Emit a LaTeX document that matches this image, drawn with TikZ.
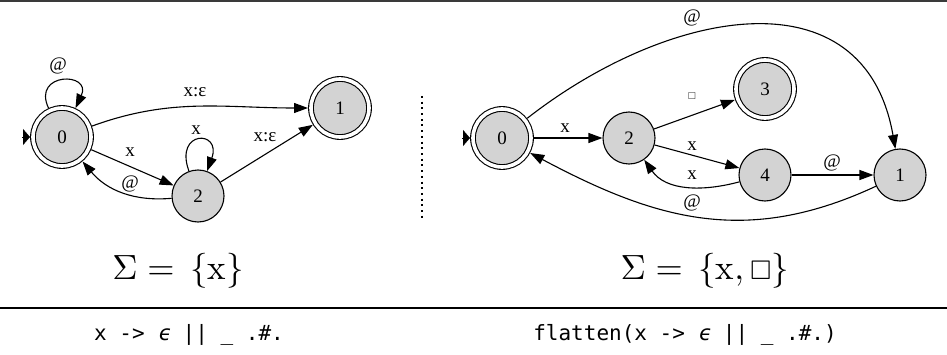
\RequirePackage{fix-cm}
\documentclass[tikz,border=0pt]{standalone}
\usepackage{amsmath}
\usepackage{amssymb}
\usepackage{fontspec}
\usepackage{graphicx}
\usepackage{tikz}
\usetikzlibrary{arrows.meta}
\newfontfamily\gvfont{Liberation Serif}
\newfontfamily\codefont{DejaVu Sans Mono}
\newfontfamily\codeslant{DejaVu Sans Mono}[FakeSlant=0.2]
\definecolor{stategray}{HTML}{D3D3D3}
\definecolor{rulegray}{HTML}{3A3A3A}
\tikzset{
  state/.style={circle,draw,fill=stategray,line width=1.1pt,minimum size=52pt,inner sep=0pt,
    font=\gvfont\fontsize{19}{19}\selectfont},
  accept/.style={state,double=white,double distance=3.6pt,minimum size=58pt,outer sep=3pt},
  trans/.style={line width=1.1pt,-{Triangle[length=14pt,width=10pt]}},
  initarr/.style={-{Triangle[length=7pt,width=16pt]}},
  lbl/.style={inner sep=1pt,font=\gvfont\fontsize{19}{19}\selectfont},
  code/.style={anchor=base,font=\codefont\fontsize{21}{21}\selectfont},
}

\begin{document}
\begin{tikzpicture}[x=1pt,y=1pt]
% 1 unit = 1 px of the 947x354 frame, y counted up from the bottom edge
\useasboundingbox (0,0) rectangle (947,354);
\draw[rulegray,line width=2.5pt] (0,352.8) -- (947,352.8);
\draw[line width=1.8pt] (0,46) -- (947,46);
\draw[line width=2pt,dash pattern=on 2pt off 3.7pt] (422,258) -- (422,134);

% left: x -> eps
\node[accept] (a0) at (62,217) {0};
\node[accept] (a1) at (340,246) {1};
\node[state] (a2) at (198,158) {2};
\coordinate (ai) at (22,217);
\draw[initarr] (ai) -- (a0);
\draw[trans] (a0.115) .. controls +(115:40) and +(65:40) .. (a0.65);
\draw[trans] (a0) to[out=20,in=180] (a1);
\draw[trans] (a0) -- (a2);
\draw[trans] (a2) to[out=185,in=-50] (a0);
\draw[trans] (a2.110) .. controls +(110:44) and +(70:44) .. (a2.70);
\draw[trans] (a2) -- (a1);
\foreach \n/\x/\y/\t in {0/58/288/@, 01/195/262/x:ε, 02/130/202/x, 20/130/170/@, 22/196/224/x, 21/265/217/x:ε}
  {\node[lbl] (la\n) at (\x,\y) {\t};}

% right: flattened
\node[accept] (b0) at (502,216) {0};
\node[state] (b2) at (629,216) {2};
\node[accept] (b3) at (765,265) {3};
\node[state] (b4) at (765,179) {4};
\node[state] (b1) at (900,179) {1};
\coordinate (bi) at (462,216);
\draw[initarr] (bi) -- (b0);
\draw[trans] (b0) -- (b2);
\draw[trans] (b2) -- (b3);
\draw[trans] (b2) -- (b4);
\draw[trans] (b4) to[out=195,in=-55] (b2);
\draw[trans] (b4) -- (b1);
\draw[trans] (b1) to[out=205,in=-28,looseness=1.05] (b0);
\draw[trans] (b0) to[out=38,in=100,looseness=1.25] (b1);
\foreach \n/\x/\y/\t in {02/565/226/x, 24/692/208/x, 42/692/179/x, 41/832/191/@, 10/692/151/@, 01/692/336/@}
  {\node[lbl] (lb\n) at (\x,\y) {\t};}
\node[lbl] (lb23) at (692,258) {\fontsize{10}{10}\selectfont$\square$};

% alphabets and expressions
\node[anchor=base] (sigL) at (178,75) {\scalebox{3.5}{$\Sigma = \,\{\mathrm{x}\}$}};
\node[anchor=base] (sigR) at (705,75) {\scalebox{3.5}{$\Sigma = \,\{\mathrm{x},{\scriptstyle\square}\}$}};
\node[code] (exL) at (189,14) {x -> {\codeslant ϵ} || \_ .\#.};
\node[code] (exR) at (685,14) {flatten(x -> {\codeslant ϵ} || \_ .\#.)};
\end{tikzpicture}
\end{document}
